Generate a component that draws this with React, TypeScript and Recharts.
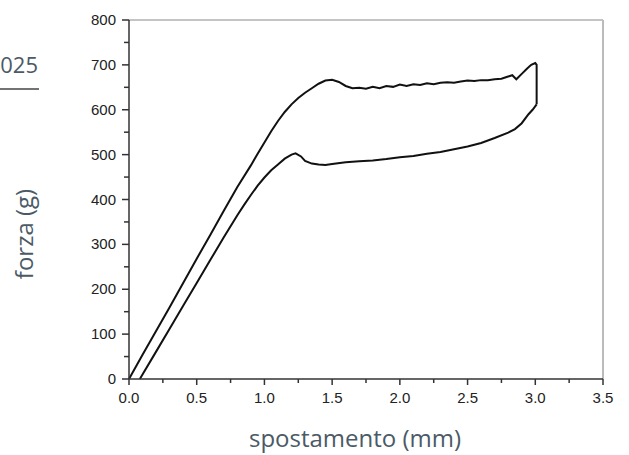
import React from 'react';
import { Line, LineChart, ReferenceLine, XAxis, YAxis } from 'recharts';

// curva superiore (carico)
const upperDisp = [
    0, 0.1, 0.2, 0.3, 0.4, 0.5, 0.6, 0.7, 0.8, 0.9, 0.95, 1.0, 1.05, 1.1, 1.15, 1.2, 1.25, 1.3, 1.35,
    1.4, 1.45, 1.5, 1.55, 1.6, 1.65, 1.7, 1.75, 1.8, 1.85, 1.9, 1.95, 2.0, 2.05, 2.1, 2.15, 2.2, 2.25,
    2.3, 2.35, 2.4, 2.45, 2.5, 2.55, 2.6, 2.65, 2.7, 2.75, 2.8, 2.83, 2.86, 2.9, 2.94, 2.97, 3.0, 3.01,
    3.01,
];
const upperForce = [
    0, 54, 107, 160, 214, 268, 321, 375, 428, 476, 502, 527, 552, 575, 595, 612, 626, 638, 648, 658,
    665, 667, 662, 653, 648, 649, 647, 651, 648, 653, 651, 656, 653, 657, 655, 659, 657, 660, 661, 660,
    663, 665, 664, 666, 666, 668, 669, 674, 677, 668, 680, 692, 700, 704, 700, 612,
];

// curva inferiore
const lowerDisp = [
    0.08, 0.2, 0.3, 0.4, 0.5, 0.6, 0.7, 0.8, 0.85, 0.9, 0.95, 1.0, 1.05, 1.1, 1.15, 1.2, 1.23, 1.27,
    1.3, 1.35, 1.4, 1.45, 1.5, 1.6, 1.7, 1.8, 1.9, 2.0, 2.1, 2.2, 2.3, 2.4, 2.5, 2.6, 2.7, 2.8, 2.85,
    2.9, 2.95, 2.98, 3.01,
];
const lowerForce = [
    0, 61, 112, 163, 214, 265, 316, 365, 388, 410, 431, 449, 465, 478, 491, 500, 503, 496, 486, 480,
    478, 477, 479, 483, 485, 487, 490, 494, 497, 502, 506, 512, 518, 526, 537, 549, 557, 570, 590, 600,
    612,
];

const xTicks = [0, 0.25, 0.5, 0.75, 1, 1.25, 1.5, 1.75, 2, 2.25, 2.5, 2.75, 3, 3.25, 3.5];
const yTicks = [0, 50, 100, 150, 200, 250, 300, 350, 400, 450, 500, 550, 600, 650, 700, 750, 800];

const upperData = upperDisp.map((d, i) => ({ x: d, y: upperForce[i] }));
const lowerData = lowerDisp.map((d, i) => ({ x: d, y: lowerForce[i] }));

const tickFont = { fontFamily: 'Liberation Sans, Arial, sans-serif', fontSize: 15, fill: '#222' };
const labelFont = { fontFamily: '"Open Sans", "Noto Sans", sans-serif', fill: '#4b5a66' };

const XTick = ({ x, y, payload }: any) => {
    const major = Math.abs(payload.value * 2 - Math.round(payload.value * 2)) < 1e-6;
    return (
        <g>
            <line x1={x} x2={x} y1={y} y2={y + (major ? 6 : 4)} stroke="#333" strokeWidth={1.5} />
            {major && (
                <text x={x} y={y + 24} textAnchor="middle" {...tickFont}>
                    {payload.value.toFixed(1)}
                </text>
            )}
        </g>
    );
};

const YTick = ({ x, y, payload }: any) => {
    const major = payload.value % 100 === 0;
    return (
        <g>
            <line x1={x} x2={x - (major ? 7 : 5)} y1={y} y2={y} stroke="#333" strokeWidth={1.5} />
            {major && (
                <text x={x - 13} y={y + 5} textAnchor="end" {...tickFont}>
                    {payload.value}
                </text>
            )}
        </g>
    );
};

export default function App() {
    return (
        <div style={{ position: 'absolute', left: 0, top: 0, width: 629, height: 455, background: '#fff' }}>
            <LineChart width={629} height={455} margin={{ top: 20, right: 26, bottom: 46, left: 79 }}>
                <XAxis
                    type="number"
                    dataKey="x"
                    domain={[0, 3.5]}
                    ticks={xTicks}
                    interval={0}
                    tickSize={0}
                    tickMargin={0}
                    tickLine={false}
                    tick={<XTick />}
                    axisLine={{ stroke: '#333', strokeWidth: 1.5 }}
                    height={30}
                    allowDuplicatedCategory={false}
                />
                <YAxis
                    type="number"
                    dataKey="y"
                    domain={[0, 800]}
                    ticks={yTicks}
                    interval={0}
                    tickSize={0}
                    tickMargin={0}
                    tickLine={false}
                    tick={<YTick />}
                    axisLine={{ stroke: '#333', strokeWidth: 1.5 }}
                    width={50}
                />
                <ReferenceLine y={800} stroke="#888" strokeWidth={1} />
                <ReferenceLine x={3.5} stroke="#bbb" strokeWidth={2} />
                <Line
                    data={upperData}
                    dataKey="y"
                    type="linear"
                    stroke="#111"
                    strokeWidth={2}
                    dot={false}
                    isAnimationActive={false}
                />
                <Line
                    data={lowerData}
                    dataKey="y"
                    type="linear"
                    stroke="#111"
                    strokeWidth={2}
                    dot={false}
                    isAnimationActive={false}
                />
            </LineChart>
            <svg width={629} height={455} style={{ position: 'absolute', left: 0, top: 0, pointerEvents: 'none' }}>
                <text x={38} y={73} textAnchor="end" fontSize={22} {...labelFont}>025</text>
                <line x1={0} x2={39} y1={89} y2={89} stroke="#444" strokeWidth={1.5} />
                <text
                    x={0}
                    y={0}
                    transform="translate(33, 234) rotate(-90)"
                    textAnchor="middle"
                    fontSize={24}
                    {...labelFont}
                >
                    forza (g)
                </text>
                <text x={355} y={447} textAnchor="middle" fontSize={24} {...labelFont}>
                    spostamento (mm)
                </text>
            </svg>
        </div>
    );
}
